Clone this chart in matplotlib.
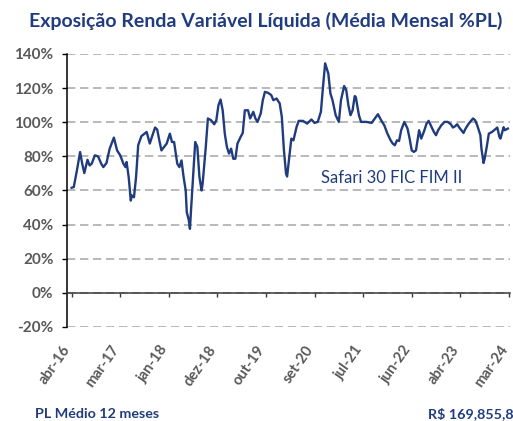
import matplotlib
matplotlib.use("Agg")
import matplotlib.pyplot as plt
from matplotlib.ticker import FuncFormatter
from matplotlib.transforms import ScaledTranslation

# semana (indice desde abr-16) e exposicao (% do PL)
weeks = [0, 2, 5, 8, 10, 12, 15, 17, 19, 22, 25, 28, 30, 33, 36, 40, 43, 46, 49, 51,
         52, 54, 56, 57, 59, 61, 63, 66, 69, 71, 74, 76, 79, 81, 83, 85, 88, 90, 93, 95,
         97, 100, 102, 104, 106, 108, 109, 111, 112, 113, 115, 117, 119, 121, 123, 124, 127, 129, 132, 135,
         137, 139, 141, 143, 145, 147, 149, 151, 153, 155, 157, 160, 162, 164, 167, 169, 172, 174, 176, 179,
         181, 183, 186, 189, 191, 194, 197, 199, 201, 203, 204, 206, 208, 210, 213, 215, 219, 223, 227, 230,
         233, 236, 238, 240, 243, 245, 247, 250, 253, 255, 258, 260, 262, 264, 266, 268, 269, 272, 274, 279,
         284, 287, 290, 293, 296, 299, 302, 304, 306, 308, 310, 312, 315, 318, 320, 322, 324, 326, 328, 329,
         331, 334, 336, 338, 340, 343, 345, 347, 350, 353, 356, 359, 361, 363, 365, 367, 369, 371, 373, 376,
         380, 382, 384, 387, 388, 390, 391, 393, 395, 398, 400, 403, 405, 406, 409, 410, 413]
exposure = [61.6, 62.0, 71.8, 82.5, 75.7, 70.2, 78.0, 74.7, 75.7, 80.6, 80.0, 75.7, 73.7, 76.1, 84.5, 91.0, 83.5, 80.6, 75.7, 73.7,
            76.7, 67.9, 54.1, 57.1, 56.0, 67.9, 86.5, 91.8, 93.3, 94.3, 87.5, 91.4, 96.9, 95.7, 89.4, 83.5, 85.9, 87.5, 93.3, 88.4,
            88.4, 75.7, 73.7, 77.6, 67.9, 60.0, 47.3, 42.4, 37.5, 48.2, 67.9, 88.4, 85.5, 67.9, 60.0, 63.9, 85.5, 102.2, 101.2, 98.8,
            101.2, 110.0, 113.3, 107.0, 93.3, 85.5, 81.6, 84.5, 78.6, 78.6, 87.5, 91.4, 93.7, 107.0, 107.0, 102.2, 106.1, 102.2, 100.2, 105.1,
            112.9, 117.8, 117.2, 115.9, 112.9, 113.9, 111.0, 103.1, 83.5, 69.8, 68.2, 79.6, 90.4, 89.4, 97.3, 100.8, 100.8, 99.2, 101.6, 99.6,
            100.2, 106.1, 120.8, 134.5, 128.6, 116.9, 112.9, 104.1, 100.2, 112.9, 121.2, 118.8, 110.0, 104.1, 107.0, 115.3, 114.9, 104.1, 100.2, 100.2,
            99.6, 102.2, 104.7, 101.2, 98.2, 93.3, 89.4, 87.5, 86.5, 89.4, 89.0, 95.3, 100.2, 96.3, 90.4, 83.5, 82.6, 83.5, 91.4, 95.3,
            90.4, 95.3, 99.2, 100.8, 98.2, 94.3, 92.4, 95.3, 98.2, 100.2, 100.2, 98.8, 96.9, 97.6, 98.8, 96.9, 95.3, 93.7, 96.3, 99.2,
            102.2, 101.2, 98.2, 92.4, 84.5, 76.1, 78.6, 85.5, 93.3, 94.3, 95.3, 96.9, 91.4, 90.4, 97.1, 95.3, 96.3]

tick_weeks = [0, 46, 92, 138, 184, 230, 276, 322, 368, 414]
tick_labels = ['abr-16', 'mar-17', 'jan-18', 'dez-18', 'out-19',
               'set-20', 'jul-21', 'jun-22', 'abr-23', 'mar-24']

navy = '#203c7e'
gray = '#595959'

plt.rcParams['font.family'] = ['Lato', 'DejaVu Sans']

fig = plt.figure(figsize=(5.13, 4.21), dpi=100)
ax = fig.add_axes([0.1306, 0.2233, 0.8645, 0.6485])

ax.plot(weeks, exposure, color=navy, lw=1.7, solid_joinstyle='round')

ax.set_ylim(-20, 140)
ax.set_xlim(-4.4, 415.5)
ax.set_yticks(range(-20, 141, 20))
ax.yaxis.set_major_formatter(FuncFormatter(lambda v, p: f'{v:.0f}%'))
ax.yaxis.grid(True, linestyle=(0, (5.5, 3)), color='#a6a6a6', lw=1.1)
ax.set_axisbelow(True)

for s in ['top', 'right']:
    ax.spines[s].set_visible(False)
ax.spines['left'].set_color('#000000')
ax.spines['left'].set_linewidth(1.1)
ax.spines['bottom'].set_position(('data', 0))
ax.spines['bottom'].set_color('#3a3a3a')
ax.spines['bottom'].set_linewidth(1.1)
ax.spines['bottom'].set_zorder(3)

ax.set_xticks(tick_weeks)
ax.set_xticklabels(tick_labels, rotation=55, ha='right', va='center', rotation_mode='anchor')
ax.tick_params(axis='x', direction='out', length=3, width=1, color='#3a3a3a', pad=36,
               labelsize=10.5, labelcolor=gray)
ax.tick_params(axis='y', direction='out', length=3.8, width=1, color='#000000', pad=6,
               labelsize=11, labelcolor=gray)
shift = ScaledTranslation(-0.04, 0, fig.dpi_scale_trans)
for lbl in ax.get_xticklabels():
    lbl.set_transform(lbl.get_transform() + shift)
for lbl in ax.get_xticklabels() + ax.get_yticklabels():
    lbl.set_fontweight('bold')

ax.text(302.7, 67.2, 'Safari 30 FIC FIM II', color=navy, fontsize=12, ha='center', va='center')

fig.text(0.517, 0.95, 'Exposição Renda Variável Líquida (Média Mensal %PL)', color=navy,
         fontsize=14, fontweight='bold', ha='center', va='center')
fig.text(0.068, 0.006, 'PL Médio 12 meses', color=navy, fontsize=10.3, fontweight='bold',
         ha='left', va='baseline')
fig.text(1.0, 0.006, 'R$ 169,855,8', color=navy, fontsize=10.3, fontweight='bold',
         ha='right', va='baseline')

fig.savefig('out.png', dpi=100)
